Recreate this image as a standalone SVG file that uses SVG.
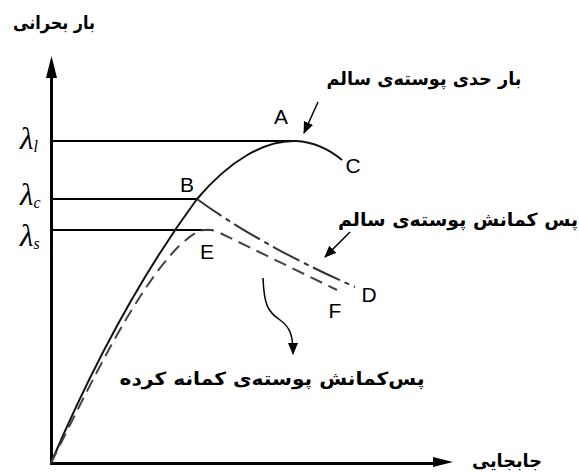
<svg xmlns="http://www.w3.org/2000/svg" width="579" height="472" viewBox="0 0 579 472">
<style>
.fa{font-family:"DejaVu Sans","Noto Sans",sans-serif;font-weight:bold;font-size:18px;fill:#000;text-anchor:middle}
.pt{font-family:"Liberation Sans",Arial,sans-serif;font-size:21px;fill:#000;text-anchor:middle}
.lam{font-family:"Liberation Serif","Times New Roman",serif;font-style:italic;font-size:31px;fill:#000}
.sub{font-size:16px}
.ax{stroke:#000;stroke-width:3;fill:none}
.lv{stroke:#000;stroke-width:2;fill:none}
.cv{stroke:#111;stroke-width:2;fill:none}
.d1{stroke:#333;stroke-width:2;fill:none;stroke-dasharray:30 5 5 5}
.d2{stroke:#444;stroke-width:2;fill:none;stroke-dasharray:13 7}
.ar{stroke:#000;stroke-width:1.5;fill:none}
</style>
<defs>
<marker id="ah" viewBox="0 0 12 10" refX="11" refY="5" markerWidth="12" markerHeight="10" markerUnits="userSpaceOnUse" orient="auto">
<path d="M0,0 L12,5 L0,10 Z" fill="#000"/>
</marker>
</defs>
<rect width="579" height="472" fill="#fff"/>
<g id="axes">
<line class="ax" x1="51.5" y1="463.5" x2="51.5" y2="72"/>
<polygon points="51.5,56 46,78 57,78" fill="#000"/>
<line class="ax" x1="50" y1="463.5" x2="436" y2="463.5"/>
<polygon points="453,462 433,457 433,467" fill="#000"/>
</g>
<g id="connectors">
<line class="lv" x1="51" y1="141" x2="297" y2="141"/>
<line class="lv" x1="51" y1="199" x2="198" y2="199"/>
<line class="lv" x1="51" y1="230" x2="213" y2="230"/>
<path class="cv" d="M51,463 C80,395 130,290 197,199 C230,160 265,140 296,141 C315,142 330,150 342,160"/>
<path class="d1" d="M197,199 Q260,245 355,287"/>
<path class="d2" d="M51,463 C90,385 135,290 180,245 C195,232 203,226 218,232 L337,290"/>
<line class="ar" x1="318" y1="102" x2="304" y2="133" marker-end="url(#ah)"/>
<line class="ar" x1="350" y1="232" x2="325" y2="257" marker-end="url(#ah)"/>
<path class="ar" d="M263,278 C264,305 268,312 280,320 C290,327 293,335 293,354" marker-end="url(#ah)"/>
</g>
<g id="labels-lambda">
<text class="lam" x="20" y="149">λ<tspan class="sub" dy="3">l</tspan></text>
<text class="lam" x="20" y="205">λ<tspan class="sub" dy="3">c</tspan></text>
<text class="lam" x="20" y="246">λ<tspan class="sub" dy="3">s</tspan></text>
</g>
<g id="point-A"><text class="pt" x="281" y="124">A</text></g>
<g id="point-B"><text class="pt" x="187" y="192">B</text></g>
<g id="point-C"><text class="pt" x="353" y="173">C</text></g>
<g id="point-D"><text class="pt" x="369" y="302">D</text></g>
<g id="point-E"><text class="pt" x="207" y="259">E</text></g>
<g id="point-F"><text class="pt" x="335" y="318">F</text></g>
<g id="title-y"><text class="fa" x="54" y="29" textLength="82" lengthAdjust="spacingAndGlyphs">بار بحرانی</text></g>
<g id="title-x"><text class="fa" x="507" y="467" textLength="70" lengthAdjust="spacingAndGlyphs">جابجایی</text></g>
<g id="label-limit"><text class="fa" x="424" y="85" textLength="195" lengthAdjust="spacingAndGlyphs">بار حدی پوسته‌ی سالم</text></g>
<g id="label-post-intact"><text class="fa" x="458" y="226" textLength="240" lengthAdjust="spacingAndGlyphs">پس کمانش پوسته‌ی سالم</text></g>
<g id="label-post-buckled"><text class="fa" x="272" y="385" textLength="305" lengthAdjust="spacingAndGlyphs">پس‌کمانش پوسته‌ی کمانه کرده</text></g>
</svg>
